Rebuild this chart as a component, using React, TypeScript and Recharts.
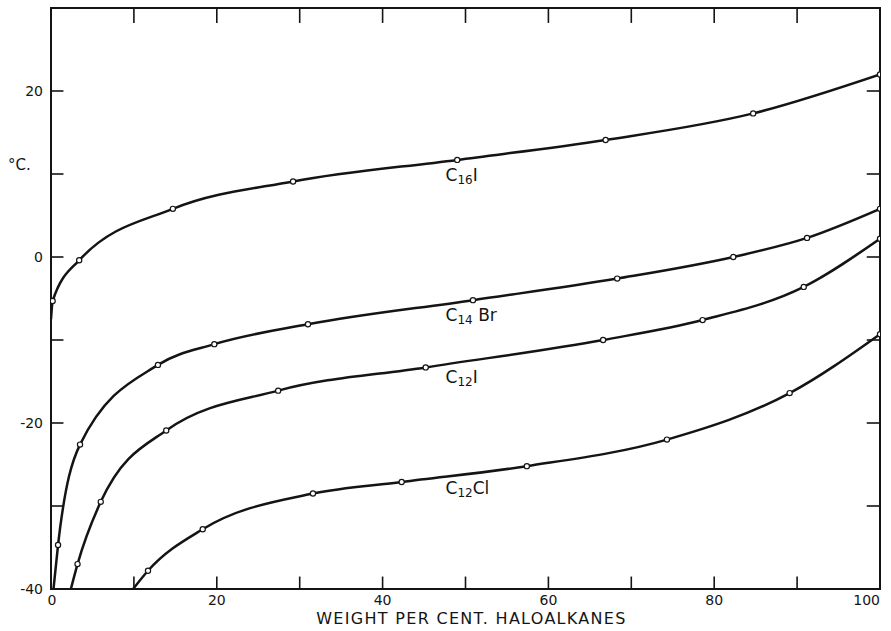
import React from 'react';
import {
  ComposedChart,
  Line,
  XAxis,
  YAxis,
  ReferenceLine,
  ReferenceArea,
  ReferenceDot,
  Label,
} from 'recharts';

// ---- data ----
// each series: measured points (open circles) plus where the drawn curve starts
const c16iX = [0.2, 3.4, 14.7, 29.2, 49.0, 66.9, 84.7, 100];
const c16iY = [-5.3, -0.4, 5.8, 9.1, 11.7, 14.1, 17.3, 22.0];
const c16iStart = [0, -7.5];

const c14brX = [0.85, 3.5, 12.9, 19.7, 31.0, 50.9, 68.3, 82.3, 91.2, 100];
const c14brY = [-34.7, -22.6, -13.0, -10.5, -8.1, -5.2, -2.6, 0.0, 2.3, 5.8];
const c14brStart = [0.3, -40];

const c12iX = [3.2, 6.0, 13.9, 27.4, 45.2, 66.6, 78.6, 90.8, 100];
const c12iY = [-37.0, -29.5, -20.9, -16.1, -13.3, -10.0, -7.6, -3.6, 2.2];
const c12iStart = [2.4, -40];

const c12clX = [11.7, 18.3, 31.6, 42.3, 57.4, 74.3, 89.1, 100];
const c12clY = [-37.8, -32.8, -28.5, -27.1, -25.2, -22.0, -16.4, -9.3];
const c12clStart = [9.9, -40];

const xLabelTicks = [0, 20, 40, 60, 80, 100];
const yLabelTicks = [-40, -20, 0, 20];
const xMinorTicks = [10, 20, 30, 40, 50, 60, 70, 80, 90];
const yMinorTicks = [-30, -20, -10, 0, 10, 20];

// curve labels: [x, y, main, subscript, rest]
const curveLabels: [number, number, string, string, string][] = [
  [47.6, 9.1, 'C', '16', 'I'],
  [47.6, -7.7, 'C', '14', ' Br'],
  [47.6, -15.2, 'C', '12', 'I'],
  [47.6, -28.6, 'C', '12', 'Cl'],
];

const INK = '#141414';
const FONT = '"DejaVu Sans", "Liberation Sans", sans-serif';

type Pt = { x: number; y: number; m: boolean };
const build = (xs: number[], ys: number[], start: number[]): Pt[] => [
  { x: start[0], y: start[1], m: false },
  ...xs.map((x, i) => ({ x, y: ys[i], m: true })),
];

const series = [
  build(c16iX, c16iY, c16iStart),
  build(c14brX, c14brY, c14brStart),
  build(c12iX, c12iY, c12iStart),
  build(c12clX, c12clY, c12clStart),
];

const renderDot = (p: any) => {
  const key = `${p.dataKey}-${p.index}-${p.cx}`;
  if (!p.payload || !p.payload.m) return <g key={key} />;
  return (
    <circle
      key={key}
      cx={p.cx}
      cy={p.cy}
      r={2.6}
      fill="#fff"
      stroke={INK}
      strokeWidth={1.2}
    />
  );
};

const XTick = (p: any) => {
  const v = p.payload.value;
  const anchor = v === 100 ? 'end' : 'middle';
  const dx = v === 100 ? 1 : v === 0 ? 1 : 0;
  return (
    <text
      x={p.x + dx}
      y={p.y}
      dy="0.75em"
      textAnchor={anchor}
      fontFamily={FONT}
      fontSize={14}
      fontWeight={500}
      fill={INK}
    >
      {String(v)}
    </text>
  );
};

const YTick = (p: any) => {
  const v = p.payload.value;
  return (
    <text
      x={p.x}
      y={p.y}
      dy="0.36em"
      textAnchor="end"
      fontFamily={FONT}
      fontSize={14}
      fontWeight={500}
      fill={INK}
    >
      {String(v)}
    </text>
  );
};

export default function App() {
  return (
    <div style={{ position: 'absolute', left: 0, top: 0, background: '#fff' }}>
      <ComposedChart
        width={891}
        height={631}
        margin={{ top: 8, right: 11, bottom: 0, left: 6 }}
      >
        <XAxis
          type="number"
          dataKey="x"
          domain={[0, 100]}
          ticks={xLabelTicks}
          axisLine={false}
          tickLine={false}
          tickSize={0}
          tickMargin={5}
          height={42}
          tick={XTick}
          allowDataOverflow
        >
          <Label
            value="WEIGHT PER CENT. HALOALKANES"
            position="insideBottom"
            offset={7}
            dx={6}
            style={{
              fontFamily: FONT,
              fontSize: 16,
              letterSpacing: 1.3,
              fill: INK,
            }}
          />
        </XAxis>
        <YAxis
          type="number"
          dataKey="y"
          domain={[-40, 30]}
          ticks={yLabelTicks}
          axisLine={false}
          tickLine={false}
          tickSize={0}
          tickMargin={8}
          width={45}
          tick={YTick}
          allowDataOverflow
        >
          <Label
            content={() => (
              <text x={8} y={170} fontFamily={FONT} fontSize={15} fill={INK}>
                °C.
              </text>
            )}
          />
        </YAxis>

        <ReferenceArea
          x1={0}
          x2={100}
          y1={-40}
          y2={30}
          fill="none"
          fillOpacity={0}
          stroke={INK}
          strokeWidth={2}
          ifOverflow="visible"
        />

        {xMinorTicks.map((t) => (
          <ReferenceLine
            key={`xb${t}`}
            segment={[
              { x: t, y: -40 },
              { x: t, y: -38.5 },
            ]}
            stroke={INK}
            strokeWidth={1.6}
          />
        ))}
        {xMinorTicks.map((t) => (
          <ReferenceLine
            key={`xt${t}`}
            segment={[
              { x: t, y: 30 },
              { x: t, y: 28.2 },
            ]}
            stroke={INK}
            strokeWidth={1.6}
          />
        ))}
        {yMinorTicks.map((t) => (
          <ReferenceLine
            key={`yl${t}`}
            segment={[
              { x: 0, y: t },
              { x: 1.5, y: t },
            ]}
            stroke={INK}
            strokeWidth={1.6}
          />
        ))}
        {yMinorTicks.map((t) => (
          <ReferenceLine
            key={`yr${t}`}
            segment={[
              { x: 100, y: t },
              { x: 98.4, y: t },
            ]}
            stroke={INK}
            strokeWidth={1.6}
          />
        ))}

        {series.map((d, i) => (
          <Line
            key={`s${i}`}
            data={d}
            dataKey="y"
            type="monotone"
            stroke={INK}
            strokeWidth={2.5}
            dot={renderDot}
            activeDot={false}
            isAnimationActive={false}
          />
        ))}

        {curveLabels.map(([x, y, main, sub, rest], i) => (
          <ReferenceDot
            key={`lab${i}`}
            x={x}
            y={y}
            r={0}
            fill="none"
            stroke="none"
            label={{
              content: (p: any) => {
                const vb = p.viewBox || {};
                const lx = (vb.x ?? 0) + (vb.width ?? 0) / 2;
                const ly = (vb.y ?? 0) + (vb.height ?? 0) / 2;
                return (
                  <text x={lx} y={ly} fontFamily={FONT} fontSize={17} fill={INK}>
                    {main}
                    <tspan fontSize={12} dy={3}>
                      {sub}
                    </tspan>
                    <tspan dy={-3}>{rest}</tspan>
                  </text>
                );
              },
            }}
          />
        ))}
      </ComposedChart>
    </div>
  );
}
